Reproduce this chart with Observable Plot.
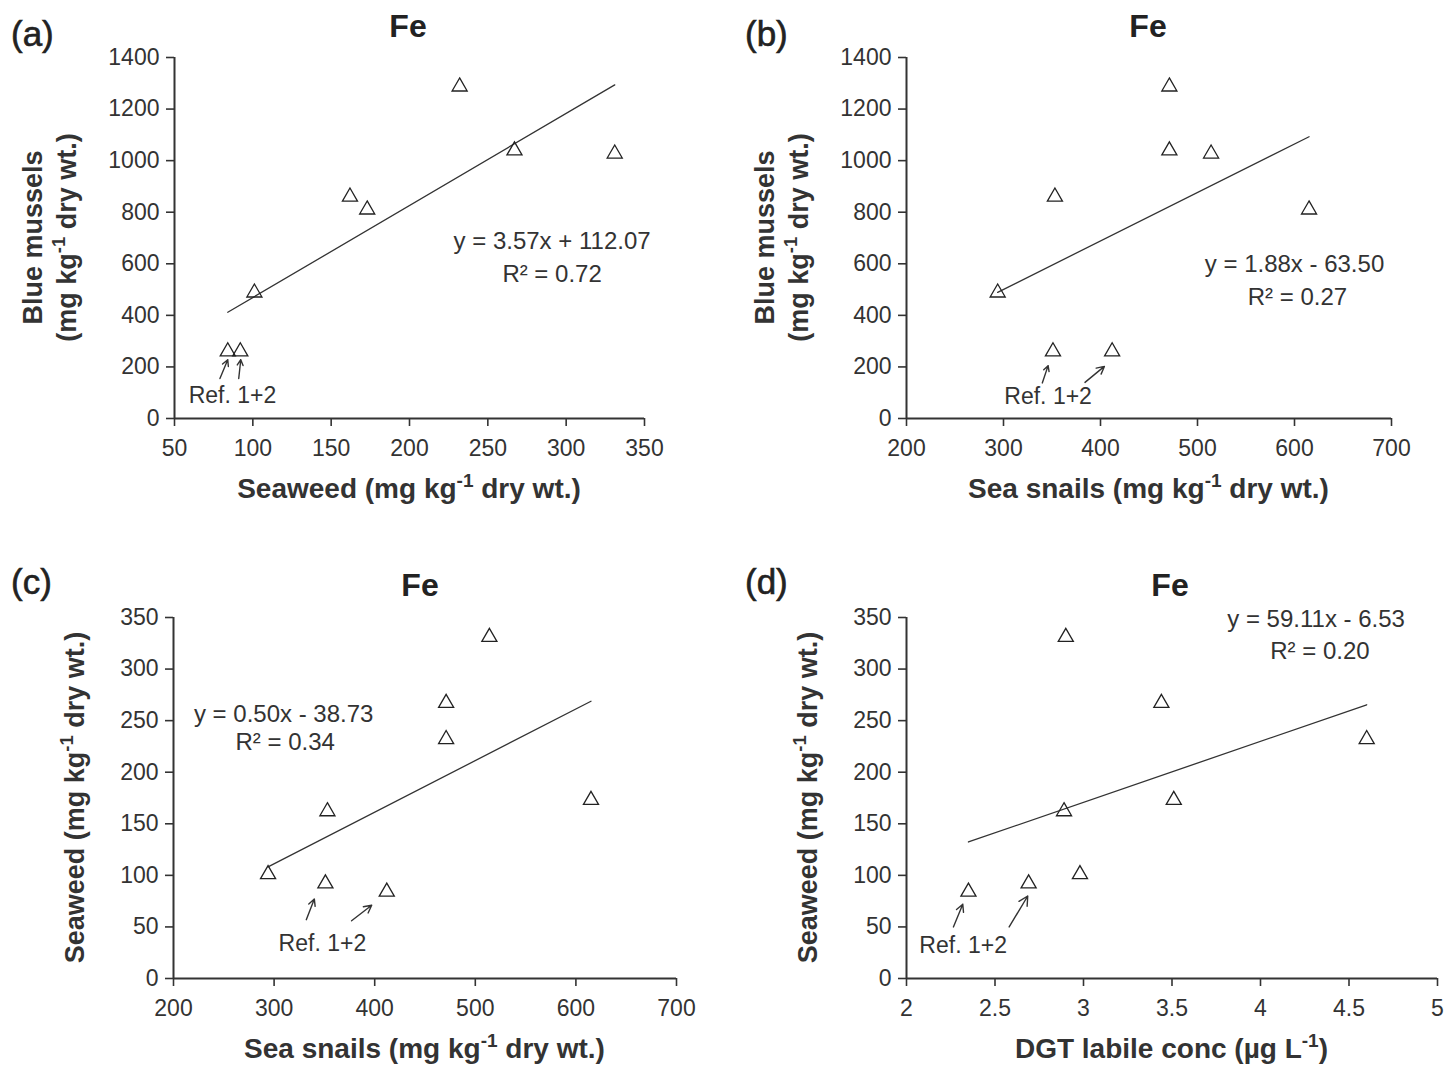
<!DOCTYPE html>
<html><head><meta charset="utf-8">
<script src="https://cdn.jsdelivr.net/npm/d3@7"></script>
<script src="https://cdn.jsdelivr.net/npm/@observablehq/plot@0.6"></script>
<style>
html,body{margin:0;padding:0;background:#fff;}
#root{position:relative;width:1447px;height:1066px;overflow:hidden;font-family:"Liberation Sans",Arial,sans-serif;}
.panel{position:absolute;}
</style></head><body><div id="root"></div>
<script>
// ---- data (8 sampling sites; last two are the reference sites) ----
const seaweed = [232, 267, 331, 173, 162, 101, 92, 84];
const mussels = [1287, 1039, 1027, 810, 860, 488, 260, 260];
const snails  = [471, 471, 514, 615, 353, 294, 351, 412];
const dgt     = [4.60, 3.44, 2.90, 3.51, 2.89, 2.98, 2.69, 2.35];

const panelLetters = ["(a)", "(b)", "(c)", "(d)"];
const panelTitle = "Fe";
const slopes = [3.57, 1.88, 0.50, 59.11];
const intercepts = [112.07, -63.50, -38.73, -6.53];
const eqLabels = ["y = 3.57x + 112.07", "y = 1.88x - 63.50", "y = 0.50x - 38.73", "y = 59.11x - 6.53"];
const r2Labels = ["R² = 0.72", "R² = 0.27", "R² = 0.34", "R² = 0.20"];
const refLabel = "Ref. 1+2";

const ticksSeaweedX = [50, 100, 150, 200, 250, 300, 350];
const ticksSnails   = [200, 300, 400, 500, 600, 700];
const ticksDgt      = [2, 2.5, 3, 3.5, 4, 4.5, 5];
const ticksMussels  = [0, 200, 400, 600, 800, 1000, 1200, 1400];
const ticksSeaweedY = [0, 50, 100, 150, 200, 250, 300, 350];

// axis titles: [text, isSuperscript]
const tSeaweed = [["Seaweed (mg kg", false], ["-1", true], [" dry wt.)", false]];
const tSnails  = [["Sea snails (mg kg", false], ["-1", true], [" dry wt.)", false]];
const tDgt     = [["DGT labile conc (µg L", false], ["-1", true], [")", false]];
const tMusselsL1 = [["Blue mussels", false]];
const tMusselsL2 = [["(mg kg", false], ["-1", true], [" dry wt.)", false]];

// ---- layout / annotation config ----
const panels = [
  {x: seaweed, y: mussels, xt: ticksSeaweedX, yt: ticksMussels, left: 0, top: 0, w: 720, h: 530,
   m: [57, 76, 112, 174], xTitle: tSeaweed, yTitles: [tMusselsL1, tMusselsL2],
   eq: [291, 686], r2: [291, 558], ref: [87, 89],
   arrows: [[79.0, 155, 84.0, 228], [91.0, 155, 92.3, 228]],
   titleX: 408, titleY: 37, letX: 11, letY: 46},
  {x: snails, y: mussels, xt: ticksSnails, yt: ticksMussels, left: 727, top: 0, w: 720, h: 530,
   m: [57, 56, 112, 179], xTitle: tSnails, yTitles: [tMusselsL1, tMusselsL2],
   eq: [600, 597], r2: [603, 469], ref: [346, 85],
   arrows: [[340, 138, 346, 205], [384, 140, 404, 202]],
   titleX: 421, titleY: 37, letX: 18, letY: 46},
  {x: snails, y: seaweed, xt: ticksSnails, yt: ticksSeaweedY, left: 0, top: 536, w: 720, h: 530,
   m: [81, 44, 88, 173], xTitle: tSnails, yTitles: [tSeaweed],
   eq: [309.5, 256], r2: [311, 229], ref: [348, 34],
   arrows: [[332, 57, 340, 77], [377, 56, 397, 71]],
   titleX: 420, titleY: 60, letX: 11, letY: 58},
  {x: dgt, y: seaweed, xt: ticksDgt, yt: ticksSeaweedY, left: 727, top: 536, w: 720, h: 530,
   m: [81, 10, 88, 179], xTitle: tDgt, yTitles: [tSeaweed],
   eq: [4.314, 348], r2: [4.336, 317], ref: [2.32, 32],
   arrows: [[2.265, 50, 2.318, 72], [2.58, 50, 2.685, 80]],
   titleX: 443, titleY: 60, letX: 18, letY: 58}
];

const FONT = "Liberation Sans, Arial, sans-serif";
const INK = "#333";
const root = document.getElementById("root");

function addRich(sel, segs, size) {
  const shift = size * 0.4;
  let up = false;
  segs.forEach(([t, sup]) => {
    const ts = sel.append("tspan").text(t);
    if (sup && !up) { ts.attr("dy", -shift).attr("font-size", size * 0.68); up = true; }
    else if (!sup && up) { ts.attr("dy", shift); up = false; }
  });
}

panels.forEach((p, i) => {
  const pts = p.x.map((xv, k) => ({x: xv, y: p.y[k]}));
  const xmin = d3.min(p.x), xmax = d3.max(p.x);
  const reg = [xmin, xmax].map(xv => ({x: xv, y: slopes[i] * xv + intercepts[i]}));
  const arr = p.arrows.map(a => ({x1: a[0], y1: a[1], x2: a[2], y2: a[3]}));
  const xd = [p.xt[0], p.xt[p.xt.length - 1]];
  const yd = [p.yt[0], p.yt[p.yt.length - 1]];
  const chart = Plot.plot({
    width: p.w, height: p.h,
    marginTop: p.m[0], marginRight: p.m[1], marginBottom: p.m[2], marginLeft: p.m[3],
    x: {domain: xd}, y: {domain: yd},
    style: {fontFamily: FONT, color: INK, background: "white", overflow: "visible"},
    marks: [
      Plot.axisX(p.xt, {tickSize: 8, tickPadding: 13, fontSize: 23, tickFormat: d => String(d), label: null, strokeWidth: 1.6}),
      Plot.axisY(p.yt, {tickSize: 8, tickPadding: 7, fontSize: 23, tickFormat: d => String(d), label: null, strokeWidth: 1.6}),
      Plot.ruleY([yd[0]], {stroke: INK, strokeWidth: 2}),
      Plot.ruleX([xd[0]], {stroke: INK, strokeWidth: 2}),
      Plot.line(reg, {x: "x", y: "y", stroke: INK, strokeWidth: 1.3}),
      Plot.dot(pts, {x: "x", y: "y", symbol: "triangle", r: 5.6, stroke: "#222", fill: "none", strokeWidth: 1.3}),
      Plot.arrow(arr, {x1: "x1", y1: "y1", x2: "x2", y2: "y2", stroke: INK, strokeWidth: 1.4, headLength: 11, headAngle: 55}),
      Plot.text([eqLabels[i]], {x: p.eq[0], y: p.eq[1], text: d => d, fontSize: 24, fill: INK, textAnchor: "middle"}),
      Plot.text([r2Labels[i]], {x: p.r2[0], y: p.r2[1], text: d => d, fontSize: 24, fill: INK, textAnchor: "middle"}),
      Plot.text([refLabel], {x: p.ref[0], y: p.ref[1], text: d => d, fontSize: 23, fill: INK, textAnchor: "middle"})
    ]
  });
  chart.classList.add("panel");
  chart.style.left = p.left + "px";
  chart.style.top = p.top + "px";
  root.appendChild(chart);

  const svg = d3.select(chart);
  const g = svg.append("g").attr("font-family", FONT).attr("fill", "#222");
  g.append("text").attr("x", p.titleX).attr("y", p.titleY).attr("text-anchor", "middle")
    .attr("font-size", 32).attr("font-weight", "bold").text(panelTitle);
  g.append("text").attr("x", p.letX).attr("y", p.letY).attr("text-anchor", "start")
    .attr("font-size", 35).attr("stroke", "#222").attr("stroke-width", 0.6).text(panelLetters[i]);
  // x title
  const cx = p.m[3] + (p.w - p.m[3] - p.m[1]) / 2;
  const axisY0 = p.h - p.m[2];
  const xt = g.append("text").attr("x", cx).attr("y", axisY0 + 80).attr("text-anchor", "middle")
    .attr("font-size", 28).attr("font-weight", "bold").attr("fill", INK);
  addRich(xt, p.xTitle, 28);
  // y titles
  const cy = p.m[0] + (p.h - p.m[0] - p.m[2]) / 2;
  const offs = p.yTitles.length === 2 ? [132, 98] : [89];
  p.yTitles.forEach((segs, j) => {
    const yt = g.append("text").attr("transform", `translate(${p.m[3] - offs[j]},${cy}) rotate(-90)`)
      .attr("text-anchor", "middle").attr("font-size", 27).attr("font-weight", "bold").attr("fill", INK);
    addRich(yt, segs, 27);
  });
});
</script></body></html>
